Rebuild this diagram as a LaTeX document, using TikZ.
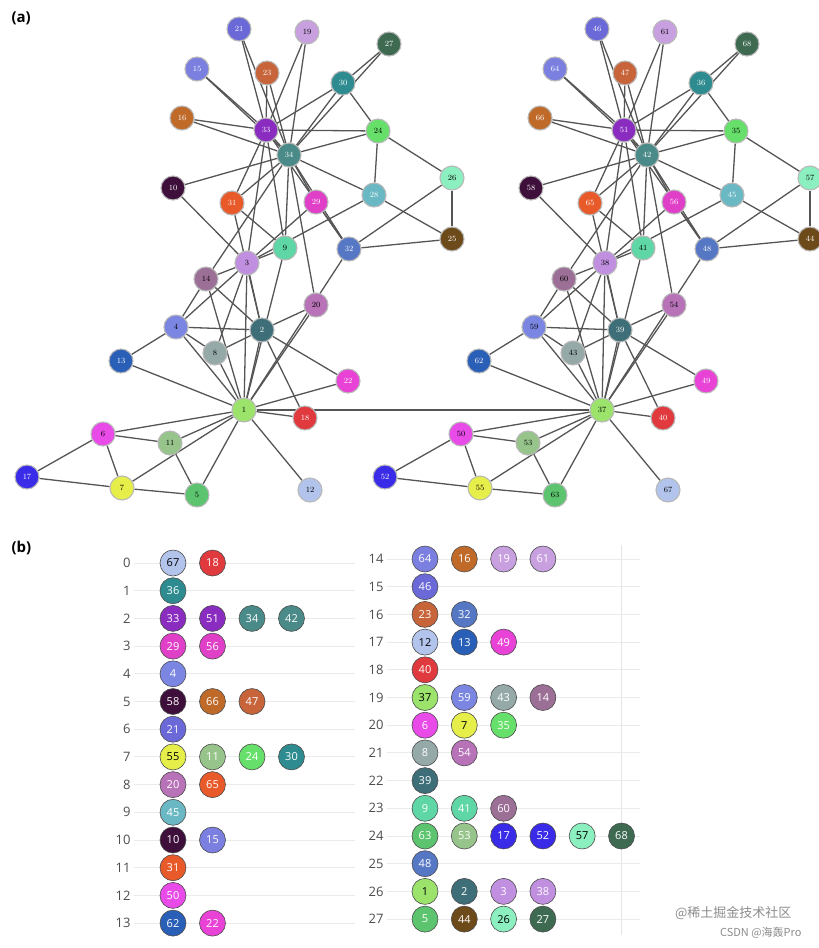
\documentclass[tikz,border=0pt]{standalone}
\usepackage{fontspec}
\newfontfamily\sans{Open Sans}
\newfontfamily\cjk{Noto Sans CJK SC}
\usetikzlibrary{backgrounds}
\definecolor{c1}{HTML}{9BE36A}\definecolor{c2}{HTML}{3E6E78}\definecolor{c3}{HTML}{C08FE0}
\definecolor{c4}{HTML}{7B86E3}\definecolor{c5}{HTML}{5CC46E}\definecolor{c6}{HTML}{E84BE8}
\definecolor{c7}{HTML}{E6EF4A}\definecolor{c8}{HTML}{95AAA8}\definecolor{c9}{HTML}{5FD6A6}
\definecolor{c10}{HTML}{3D0F3A}\definecolor{c11}{HTML}{96C48A}\definecolor{c12}{HTML}{B3C4EC}
\definecolor{c13}{HTML}{2A5FB8}\definecolor{c14}{HTML}{9C6F96}\definecolor{c15}{HTML}{7A7FE0}
\definecolor{c16}{HTML}{C06A2A}\definecolor{c17}{HTML}{3A2BE8}\definecolor{c18}{HTML}{E03A3E}
\definecolor{c19}{HTML}{C8A0E0}\definecolor{c20}{HTML}{B772B8}\definecolor{c21}{HTML}{6B69D8}
\definecolor{c22}{HTML}{E842D6}\definecolor{c23}{HTML}{C8643A}\definecolor{c24}{HTML}{66E06A}
\definecolor{c25}{HTML}{6D4A1A}\definecolor{c26}{HTML}{8CEFC0}\definecolor{c27}{HTML}{3E6A52}
\definecolor{c28}{HTML}{6AB8C4}\definecolor{c29}{HTML}{E040C8}\definecolor{c30}{HTML}{2E8C90}
\definecolor{c31}{HTML}{E85A2A}\definecolor{c32}{HTML}{5577C4}\definecolor{c33}{HTML}{8A2CC0}
\definecolor{c34}{HTML}{4A8A88}
\definecolor{edge}{HTML}{555555}
\colorlet{c37}{c1}\colorlet{c39}{c2}\colorlet{c38}{c3}\colorlet{c59}{c4}\colorlet{c63}{c5}
\colorlet{c50}{c6}\colorlet{c55}{c7}\colorlet{c43}{c8}\colorlet{c41}{c9}\colorlet{c58}{c10}
\colorlet{c53}{c11}\colorlet{c67}{c12}\colorlet{c62}{c13}\colorlet{c60}{c14}\colorlet{c64}{c15}
\colorlet{c66}{c16}\colorlet{c52}{c17}\colorlet{c40}{c18}\colorlet{c61}{c19}\colorlet{c54}{c20}
\colorlet{c46}{c21}\colorlet{c49}{c22}\colorlet{c47}{c23}\colorlet{c35}{c24}\colorlet{c44}{c25}
\colorlet{c57}{c26}\colorlet{c68}{c27}\colorlet{c45}{c28}\colorlet{c56}{c29}\colorlet{c36}{c30}
\colorlet{c65}{c31}\colorlet{c48}{c32}\colorlet{c51}{c33}\colorlet{c42}{c34}
% white text in (a)
\def\mk#1{\expandafter\def\csname gw#1\endcsname{}}
\mk{2}\mk{10}\mk{13}\mk{15}\mk{16}\mk{17}\mk{18}\mk{21}\mk{22}\mk{23}\mk{25}\mk{27}\mk{28}\mk{29}\mk{30}\mk{31}\mk{32}\mk{33}\mk{34}
% black text in (b)
\def\mb#1{\expandafter\def\csname bk#1\endcsname{}}
\mb{1}\mb{7}\mb{12}\mb{26}\mb{37}\mb{55}\mb{57}\mb{67}
\tikzset{
 gn/.style={circle,draw=gray!55,line width=1.1pt,minimum size=24pt,inner sep=0pt,font=\fontsize{8}{8}\selectfont},
 ed/.style={draw=edge,line width=1.3pt},
 bn/.style={circle,draw=black!70,line width=0.6pt,minimum size=26pt,inner sep=0pt,font=\sans\fontsize{11}{11}\selectfont},
 rn/.style={anchor=east,text=black!70,font=\sans\fontsize{13}{13}\selectfont},
 grid/.style={draw=black!8,line width=1pt},
 lab/.style={font=\sans\bfseries\fontsize{15}{15}\selectfont,anchor=north west}
}
\begin{document}
\begin{tikzpicture}[x=1pt,y=-1pt]
\useasboundingbox (0,0) rectangle (819,948);
\node[lab] (la) at (8,8) {(a)};
\node[lab] (lb) at (8,538) {(b)};
\foreach \i/\x/\y/\r in {1/244/410/37,2/262/330/39,3/247/263/38,4/176/327/59,5/197/495/63,6/103/434/50,7/122/488/55,8/215/353/43,9/285/248/41,10/173/188/58,11/170/443/53,12/310/490/67,13/121/361/62,14/206/279/60,15/197/69/64,16/182/118/66,17/27/477/52,18/305/418/40,19/307/32/61,20/316/305/54,21/239/29/46,22/348/381/49,23/267/73/47,24/378/131/35,25/452/239/44,26/452/178/57,27/389/44/68,28/374/195/45,29/316/202/56,30/343/83/36,31/232/203/65,32/349/249/48,33/266/130/51,34/289/155/42}{
 \ifcsname gw\i\endcsname\def\tc{white}\else\def\tc{black}\fi
 \node[gn,fill=c\i,text=\tc] (L\i) at (\x,\y) {\i};
 \node[gn,fill=c\i,text=\tc] (R\i) at (\x+358,\y) {\r};
}
\begin{pgfonlayer}{background}
\foreach \a/\b in {1/2,1/3,1/4,1/5,1/6,1/7,1/8,1/9,1/11,1/12,1/13,1/14,1/18,1/20,1/22,1/32,
 2/3,2/4,2/8,2/14,2/18,2/20,2/22,2/31,3/4,3/8,3/9,3/10,3/14,3/28,3/29,3/33,4/8,4/13,4/14,
 5/7,5/11,6/7,6/11,6/17,7/17,9/31,9/33,9/34,10/34,14/34,15/33,15/34,16/33,16/34,19/33,19/34,
 20/34,21/33,21/34,23/33,23/34,24/26,24/28,24/30,24/33,24/34,25/26,25/28,25/32,26/32,27/30,27/34,
 28/34,29/32,29/34,30/33,30/34,31/33,31/34,32/33,32/34,33/34}{
 \draw[ed] (L\a) -- (L\b);
 \draw[ed] (R\a) -- (R\b);
}
\draw[ed] (L1) -- (R1);
\end{pgfonlayer}
% (b)
\draw[black!10,line width=1pt] (621,545) -- (621,935);
\foreach \row/\items [count=\n from 0] in {0/{67,18},1/{36},2/{33,51,34,42},3/{29,56},4/{4},5/{58,66,47},6/{21},7/{55,11,24,30},8/{20,65},9/{45},10/{10,15},11/{31},12/{50},13/{62,22}}{
 \pgfmathsetmacro\yy{563+27.7*\n}
 \node[rn] (n\row) at (134,\yy) {\row};
 \coordinate (g\row) at (355,\yy);
 \draw[grid] (n\row.east) -- (g\row);
 \foreach \v [count=\k from 0] in \items {
  \ifcsname bk\v\endcsname\def\tc{black}\else\def\tc{white}\fi
  \node[bn,fill=c\v,text=\tc] (b\row-\k) at (173+39.5*\k,\yy) {\v};
 }
}
\foreach \row/\items [count=\n from 0] in {14/{64,16,19,61},15/{46},16/{23,32},17/{12,13,49},18/{40},19/{37,59,43,14},20/{6,7,35},21/{8,54},22/{39},23/{9,41,60},24/{63,53,17,52,57,68},25/{48},26/{1,2,3,38},27/{5,44,26,27}}{
 \pgfmathsetmacro\yy{559+27.7*\n}
 \node[rn] (n\row) at (387,\yy) {\row};
 \coordinate (g\row) at (640,\yy);
 \draw[grid] (n\row.east) -- (g\row);
 \foreach \v [count=\k from 0] in \items {
  \ifcsname bk\v\endcsname\def\tc{black}\else\def\tc{white}\fi
  \node[bn,fill=c\v,text=\tc] (b\row-\k) at (425+39.3*\k,\yy) {\v};
 }
}
\node[anchor=east,text=black!45,font=\cjk\fontsize{13}{13}\selectfont] (w1) at (795,913) {@稀土掘金技术社区};
\node[anchor=east,text=black!45,font=\cjk\fontsize{11}{11}\selectfont] (w2) at (805,933) {CSDN @海轰Pro};
\end{tikzpicture}
\end{document}
